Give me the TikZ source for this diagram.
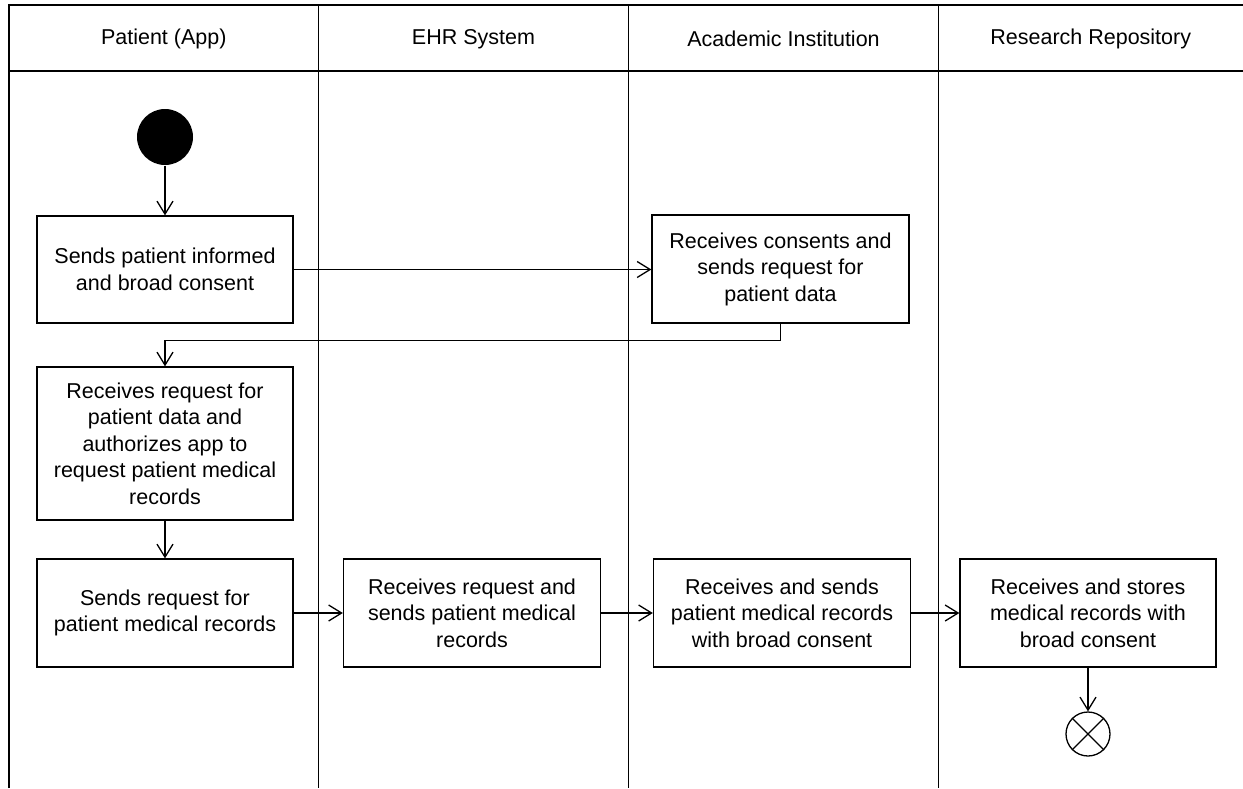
\documentclass[tikz,border=0pt]{standalone}
\usepackage{fontspec}
\setmainfont{Liberation Sans}
\usetikzlibrary{arrows.meta}

\begin{document}
\begin{tikzpicture}[
		x=1pt,y=-1pt,
		line width=1.3pt,
		every node/.style={font=\fontsize{21.5}{26.5}\selectfont},
		activity/.style={draw,rectangle,minimum width=256pt,minimum height=107pt,align=center,inner sep=0pt},
		flow/.style={-{Straight Barb[length=13pt,width=16pt,line width=1.3pt]}}
		]
		\useasboundingbox (0,0) rectangle (1243,788);
		\draw (9,788) -- (9,5) -- (1243,5);
		\draw (9,71) -- (1243,71);
		\foreach \x in {318.5,628.5,938.5}
			\draw[line width=1.8pt] (\x,5) -- (\x,788);
		
		\node (hpatient) at (163.75,39) {Patient (App)};
		\node (hehr) at (473.5,39) {EHR System};
		\node (hacademic) at (783.5,39) {Academic Institution};
		\node (hrepository) at (1090.75,39) {Research Repository};
		
		\node[circle,fill=black,minimum size=56pt,inner sep=0pt] (start) at (165,137) {};
		\node[activity] (consent) at (165,269.5) {Sends patient informed\\and broad consent};
		\node[activity,minimum width=257pt,minimum height=108pt] (receiveconsent) at (780.5,269) {Receives consents and\\sends request for\\patient data};
		\node[activity,minimum height=153pt] (authorize) at (165,443.5) {Receives request for\\patient data and\\authorizes app to\\request patient medical\\records};
		\node[activity,minimum height=108pt] (sendrequest) at (165,613) {Sends request for\\patient medical records};
		\node[activity,minimum width=257pt,minimum height=108pt] (ehr) at (472,613) {Receives request and\\sends patient medical\\records};
		\node[activity,minimum width=257pt,minimum height=108pt] (academic) at (782,613) {Receives and sends\\patient medical records\\with broad consent};
		\node[activity,minimum height=108pt] (repository) at (1088,613) {Receives and stores\\medical records with\\broad consent};
		\node[circle,draw,minimum size=44pt,inner sep=0pt] (final) at (1088,734) {};
		\draw (final.north west) -- (final.south east);
		\draw (final.north east) -- (final.south west);
		
		\draw[flow] (start) -- (consent);
		\draw[flow] (consent.east) -- (consent.east -| receiveconsent.west);
		\draw[flow] (receiveconsent.south) -- ++(0,17) -| (authorize.north);
		\draw[flow] (authorize) -- (sendrequest);
		\draw[flow] (sendrequest) -- (ehr);
		\draw[flow] (ehr) -- (academic);
		\draw[flow] (academic) -- (repository);
		\draw[flow] (repository) -- (final);
	\end{tikzpicture}
\end{document}
